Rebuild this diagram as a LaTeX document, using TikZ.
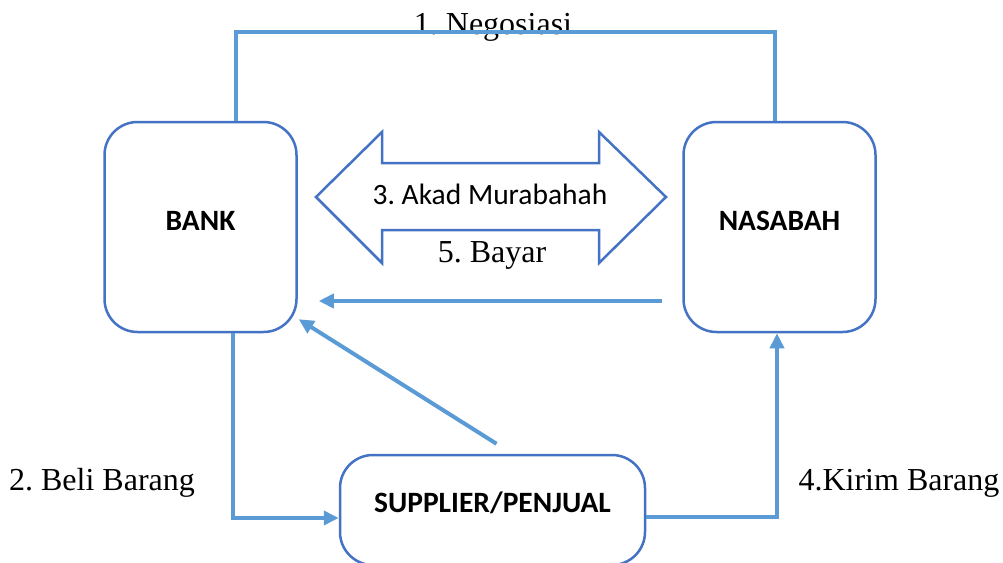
\documentclass[tikz,border=0pt]{standalone}
\usepackage{fontspec}
\setmainfont{Liberation Serif}
\newfontfamily\calibri{Carlito}
\usepackage{tikz}
\usetikzlibrary{calc,positioning,arrows.meta,shapes}
\definecolor{birutua}{RGB}{68,114,196}
\definecolor{birumuda}{RGB}{91,155,213}
\frenchspacing
\tikzset{
>={Triangle[length=7.5pt,width=7pt]},
  kotak/.style={
    rectangle,
    rounded corners=16.5pt,
    draw=birutua, line width=1.25pt,
    fill=white,
    minimum width=96pt,
    minimum height=105pt,
    font=\calibri\bfseries\fontsize{14.75}{17}\selectfont,
    text centered},
  garis/.style={draw=birumuda, line width=2pt},
  panah/.style={garis, ->},
  teks/.style={font=\fontsize{16}{19}\selectfont, inner sep=0pt},
  akad/.style={draw=birutua, line width=1.25pt, line join=miter},
}

\begin{document}
\begin{tikzpicture}[x=0.5pt,y=-0.5pt]
		\useasboundingbox (0,0) rectangle (1003,563);

		% kotak-kotak
		\node[kotak] (bank) at (200.5,227) {\raisebox{6.5pt}{BANK}};
		\node[kotak] (nasabah) at (779.5,227) {\raisebox{6.5pt}{NASABAH}};
		\node[kotak, minimum width=152.5pt, minimum height=55pt] (supplier) at (492.5,510) {\raisebox{7.5pt}{SUPPLIER/PENJUAL}};

		% panah ganda akad
		\draw[akad] (316,197) -- (382,132) -- (382,163) -- (599,163) -- (599,132) -- (666,197)
			-- (599,263) -- (599,230) -- (382,230) -- (382,263) -- cycle;
		\node[font=\calibri\fontsize{14.75}{17}\selectfont] (akadteks) at (490,194) {3. Akad Murabahah};

		% label
		\node[teks, anchor=base] (negosiasi) at (493,34) {1. Negosiasi};
		\node[teks] (bayar) at (492,255) {5. Bayar};
		\node[teks] (beli) at (102,483) {2. Beli Barang};
		\node[teks] (kirim) at (899,483) {4.Kirim Barang};

		% penghubung
		\draw[garis] ([xshift=17.75pt]bank.north) -- ++(0,-89) -| ([xshift=-2.25pt]nasabah.north);
		\draw[panah, shorten <=10pt, shorten >=10.5pt] ([yshift=-37pt]nasabah.west) -- ([yshift=-37pt]bank.east);
		\draw[panah] ([xshift=16.25pt]bank.south) |- ([yshift=-4pt]supplier.west);
		\draw[panah] ([yshift=-3.5pt]supplier.east) -| ([xshift=-1.25pt]nasabah.south);
		\draw[panah] ([xshift=2pt,yshift=5pt]supplier.north) -- ([xshift=0.5pt,yshift=7pt]bank.south east);

	\end{tikzpicture}
\end{document}
